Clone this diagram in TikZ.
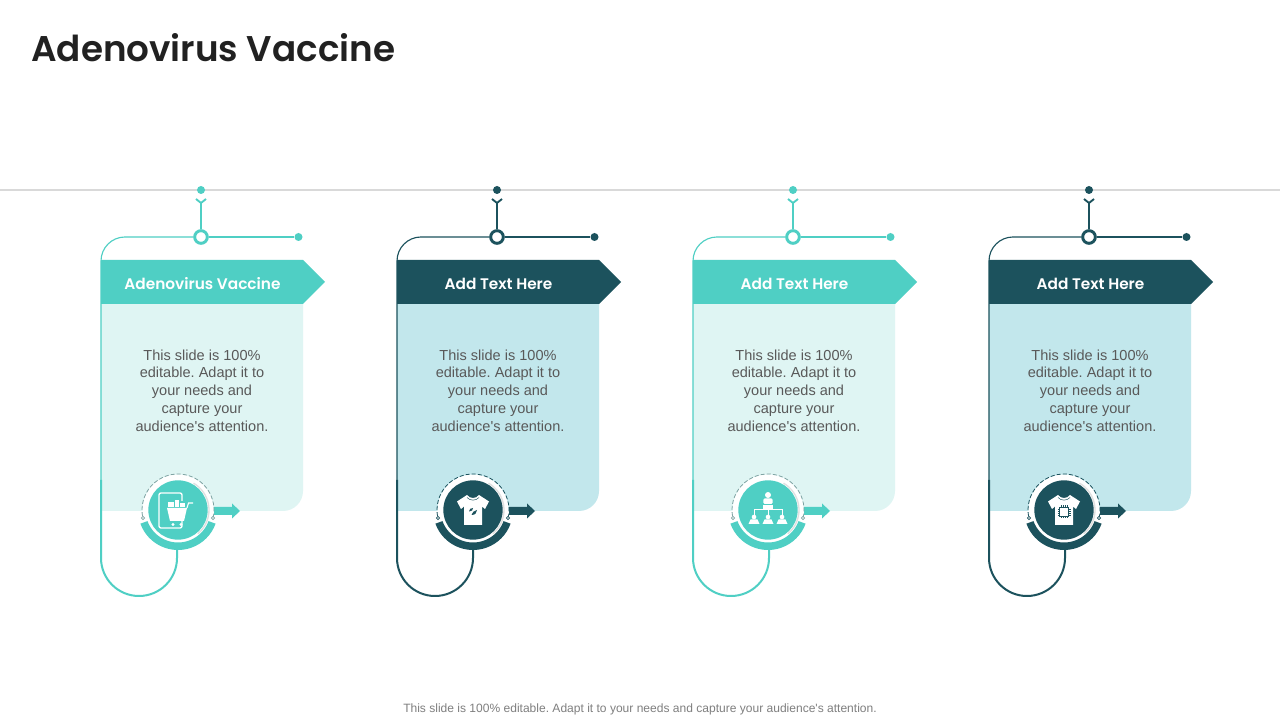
\documentclass[tikz,border=0pt]{standalone}
\usepackage{fontspec}
\setmainfont{Liberation Sans}
\newfontfamily\plainfont{Liberation Sans}
\newfontfamily\headfont{Poppins}[BoldFont=* SemiBold]
\usetikzlibrary{calc}
\definecolor{teal1}{HTML}{4FCFC4}
\definecolor{dark1}{HTML}{1C525D}
\definecolor{lightA}{HTML}{DFF5F3}
\definecolor{lightB}{HTML}{C2E7EC}
\definecolor{dashA}{HTML}{7FA3A3}
\definecolor{txt}{HTML}{595959}
\definecolor{foot}{HTML}{7F7F7F}
\definecolor{rule}{HTML}{D9D9D9}
\tikzset{
  x=0.75pt,y=0.75pt,
  dotn/.style={circle,inner sep=0pt,minimum size=6pt,fill=#1},
  ringn/.style={circle,inner sep=0pt,minimum size=9.5pt,draw=#1,line width=2.2pt,fill=white},
  discn/.style={circle,inner sep=0pt,minimum size=44.5pt,fill=#1},
  pin/.style={circle,inner sep=0pt,minimum size=2.4pt,draw=#1,line width=.5pt,fill=white},
  headtxt/.style={text=white,font=\headfont\fontsize{11.5}{14}\selectfont\bfseries,inner sep=0pt},
  bodytxt/.style={text=txt,align=center,inner sep=0pt,font=\plainfont\frenchspacing\fontsize{10.9}{13.3}\selectfont},
  thinline/.style={draw=#1,line width=.85pt},
  thickline/.style={draw=#1,line width=1.5pt},
}
\newcommand{\iconCart}[1]{%
  \draw[white,line width=1pt,rounded corners=1.5] (4,-18) rectangle (-19,17);
  \fill[#1] (-12,9) rectangle (14,-11);
  \fill[white] (-11,2) -- (9,2) -- (6,-11) -- (-8,-11) -- cycle;
  \draw[white,line width=.8pt] (9,2) -- (10.5,7) -- (15,7);
  \fill[white] (-10,3) rectangle (-4,8);
  \fill[white] (-3,3) rectangle (1,10);
  \fill[white] (2,3) rectangle (7,7);
  \fill[white] (-5,-14.5) circle (1.6) (3,-14.5) circle (1.6);
}
\newcommand{\shirt}[1]{%
  \fill[white] (-6,15) .. controls (-3,11) and (3,11) .. (6,15) -- (16,8.5) -- (12,1) -- (9,3.5) -- (9,-15) -- (-9,-15) -- (-9,3.5) -- (-12,1) -- (-16,8.5) -- cycle;
  \draw[#1,line width=.35pt] (-6,12.5) .. controls (-3,9) and (3,9) .. (6,12.5);
}
\newcommand{\iconLeaf}[1]{%
  \shirt{#1}
  \fill[#1] (-4,-1.5) .. controls (-4,1) and (-2,2) .. (0,2) .. controls (0,0) and (-1,-1.5) .. (-4,-1.5);
  \fill[#1] (-1.5,-5) .. controls (-1,-2) and (1,-1) .. (4,0) .. controls (4,-3) and (2,-5) .. (-1.5,-5);
}
\newcommand{\iconOrg}[1]{%
  \fill[white] (0,15) circle (3);
  \fill[white,rounded corners=1] (-4.7,11.5) rectangle (4.7,6);
  \fill[white] (-4.7,5) rectangle (4.7,0.5);
  \draw[white,line width=.6pt] (-14,-5) -- (-14,0.7) -- (14,0.7) -- (14,-5) (0,1) -- (0,-5);
  \foreach \px in {-14,0,14}{
    \fill[white] (\px,-7) circle (2.3);
    \fill[white] (\px-5.5,-14) -- (\px-3.5,-9.5) -- (\px+3.5,-9.5) -- (\px+5.5,-14) -- cycle;
  }
}
\newcommand{\iconChip}[1]{%
  \shirt{#1}
  \draw[#1,line width=.7pt,fill=white] (-4.5,-6.5) rectangle (4.5,2.5);
  \foreach \t in {-3,-1,1,3}{
    \draw[#1,line width=.4pt] (\t,2.5) -- (\t,4.5) (\t,-6.5) -- (\t,-8.5) (-4.5,\t-2) -- (-6.5,\t-2) (4.5,\t-2) -- (6.5,\t-2);
  }
}
% #1 id, #2 card left, #3 disc x, #4 main, #5 light, #6 dash colour, #7 title, #8 icon
\newcommand{\panel}[8]{%
  \fill[#5] (#2,416) -- (#2+202,416) -- (#2+202,229) arc[start angle=0,end angle=-90,radius=20] -- (#2,209) -- cycle;
  \node[dotn=#4] (top#1) at (#2+100,530) {};
  \node[ringn=#4] (ring#1) at (#2+100,483) {};
  \node[dotn=#4] (end#1) at (#2+197.5,483) {};
  \coordinate (chev#1) at (#2+100,517);
  \coordinate (low#1) at (#2,240);
  \coordinate (turn#1) at (#2,162);
  \draw[thinline=#4] (chev#1) -- (ring#1);
  \draw[thinline=#4] (ring#1) -- (end#1);
  \draw[thinline=#4,rounded corners=18] (ring#1.west) -- (#2,483) -- (low#1);
  \fill[#4] (#2,460) -- (#2+202,460) -- (#2+224,438) -- (#2+202,416) -- (#2,416) -- cycle;
  \draw[#4,line width=1.4pt,line join=miter] ($(chev#1)+(-5,4)$) -- (chev#1) -- ($(chev#1)+(5,4)$);
  \node[headtxt] (head#1) at (#2+101.5,436) {#7};
  \node[bodytxt] (body#1) at (#2+101,329.5) {This slide is 100\%\\editable. Adapt it to\\your needs and\\capture your\\audience's attention.};
  \coordinate (c#1) at (#3,210);
  \draw[thickline=#4] (low#1) -- (turn#1) arc[start angle=180,end angle=360,radius=38] -- (#2+76,172);
  \fill[#4] ($(c#1)+(36,3)$) -- ($(c#1)+(54,3)$) -- ($(c#1)+(54,6.5)$) -- ($(c#1)+(62,-1)$) -- ($(c#1)+(54,-8.5)$) -- ($(c#1)+(54,-5)$) -- ($(c#1)+(36,-5)$) -- cycle;
  \fill[white] (c#1) circle (35.5);
  \fill[#4] ($(c#1)+(200:40)$) arc[start angle=200,end angle=340,radius=40] -- ($(c#1)+(340:32.5)$) arc[start angle=340,end angle=200,radius=32.5] -- cycle;
  \draw[#6,line width=.6pt,dash pattern=on 3pt off 1.6pt] ($(c#1)+(-12:36)$) arc[start angle=-12,end angle=192,radius=36];
  \draw[black!12,line width=1pt] ($(c#1)+(-50:31)$) arc[start angle=-50,end angle=60,radius=31];
  \node[discn=#4] (disc#1) at (c#1) {};
  \node[pin=#6] (pinl#1) at ($(c#1)+(-35,-8)$) {};
  \node[pin=#6] (pinr#1) at ($(c#1)+(35,-8)$) {};
  \begin{scope}[shift={(c#1)}]#8\end{scope}
}
\begin{document}
\begin{tikzpicture}
\useasboundingbox (0,0) rectangle (1280,720);
\fill[white] (0,0) rectangle (1280,720);
\node[anchor=west,inner sep=0pt,text=black!87,font=\headfont\fontsize{26.8}{30}\selectfont\bfseries] (title) at (31,672) {Adenovirus Vaccine};
\coordinate (ruleL) at (0,530);
\coordinate (ruleR) at (1280,530);
\draw[rule,line width=1.1pt] (ruleL) -- (ruleR);
\panel{1}{101}{178}{teal1}{lightA}{dashA}{Adenovirus Vaccine}{\iconCart{teal1}}
\panel{2}{397}{473}{dark1}{lightB}{dark1}{Add Text Here}{\iconLeaf{dark1}}
\panel{3}{693}{768}{teal1}{lightA}{dashA}{Add Text Here}{\iconOrg{teal1}}
\panel{4}{989}{1064}{dark1}{lightB}{dark1}{Add Text Here}{\iconChip{dark1}}
\node[text=foot,inner sep=0pt,font=\plainfont\frenchspacing\fontsize{9.03}{11}\selectfont] (footer) at (640,11) {This slide is 100\% editable. Adapt it to your needs and capture your audience's attention.};
\end{tikzpicture}
\end{document}
